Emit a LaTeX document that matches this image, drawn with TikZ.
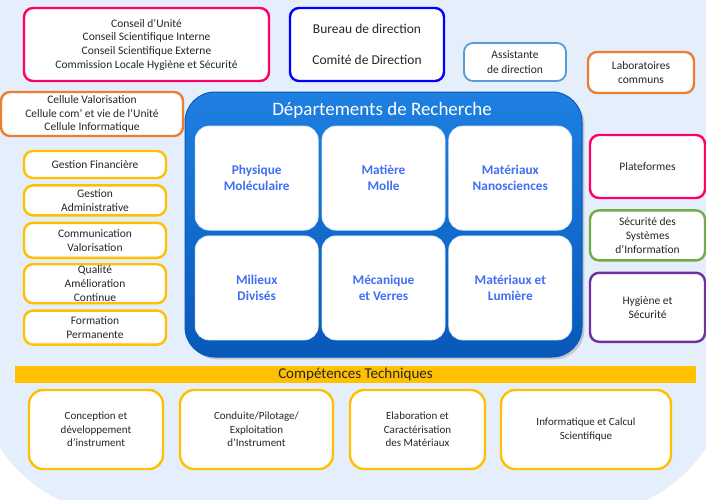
\documentclass[tikz,border=0pt]{standalone}
\usepackage{fontspec}
\setmainfont{Carlito}
\usepackage{tikz}
\usetikzlibrary{matrix, positioning, shadows}

\definecolor{fondbleu}{RGB}{229,238,251}
\definecolor{rosevif}{RGB}{255,0,102}
\definecolor{bleuvif}{RGB}{0,0,255}
\definecolor{bleuclair}{RGB}{91,155,213}
\definecolor{orangec}{RGB}{237,125,49}
\definecolor{jaune}{RGB}{255,192,0}
\definecolor{vertc}{RGB}{112,173,71}
\definecolor{violetc}{RGB}{112,48,160}
\definecolor{deptexte}{RGB}{66,110,245}
\definecolor{depclair}{RGB}{30,128,225}
\definecolor{depfonce}{RGB}{8,88,185}

\begin{document}
\begin{tikzpicture}[x=1pt, y=-1pt,
	cadre/.style={draw=#1, line width=2.4pt, rounded corners=9pt, fill=white, inner sep=0pt,
		align=center, text=black!85, font=\fontsize{11.5}{13.7}\selectfont},
	comp/.style={cadre=jaune, rounded corners=14pt, minimum height=79pt,
		font=\fontsize{11}{13.5}\selectfont},
	dep/.style={draw=white!85!depclair, line width=0.8pt, fill=white, rounded corners=14pt,
		minimum width=123pt, minimum height=104pt, inner sep=0pt, align=center,
		text=deptexte, font=\bfseries\fontsize{13.3}{16}\selectfont}]
	%
	\useasboundingbox (0,0) rectangle (706,499);
	\clip (0,0) rectangle (706,499);
	\fill[white] (0,0) rectangle (706,499);
	\fill[fondbleu, rounded corners=150pt] (-25,-300) rectangle (731,515);
	%
	% instances et direction
	\node[cadre=rosevif, minimum width=245pt, minimum height=73pt] (conseil) at (146.5,44.5)
		{Conseil d'Unité\\Conseil Scientifique Interne\\Conseil Scientifique Externe\\Commission Locale Hygiène et Sécurité};
	\node[cadre=bleuvif, minimum width=154pt, minimum height=73pt, font=\fontsize{13.5}{15}\selectfont] (bureau) at (367,44.5)
		{Bureau de direction\\[16pt]Comité de Direction};
	\node[cadre=bleuclair, line width=1.8pt, minimum width=102pt, minimum height=38pt, font=\fontsize{11.5}{14.5}\selectfont] (assistante) at (515,62)
		{Assistante\\de direction};
	\node[cadre=orangec, minimum width=106pt, minimum height=41pt] (labos) at (641,72.5)
		{Laboratoires\\communs};
	\node[cadre=orangec, minimum width=182pt, minimum height=44pt] (cellules) at (92,114)
		{Cellule Valorisation\\Cellule com' et vie de l'Unité\\Cellule Informatique};
	%
	% services
	\node[cadre=jaune, minimum width=142pt, minimum height=27pt] (finance) at (95,164.5) {Gestion Financière};
	\node[cadre=jaune, minimum width=142pt, minimum height=30pt, below=5pt of finance] (admin) {Gestion\\Administrative};
	\node[cadre=jaune, minimum width=142pt, minimum height=35pt, below=5pt of admin] (commu) {Communication\\Valorisation};
	\node[cadre=jaune, minimum width=142pt, minimum height=39pt, below=4pt of commu] (qualite) {Qualité\\Amélioration\\Continue};
	\node[cadre=jaune, minimum width=142pt, minimum height=34pt, below=5pt of qualite] (formation) {Formation\\Permanente};
	%
	% départements
	\node[draw=depfonce, line width=1pt, rounded corners=30pt, top color=depclair, bottom color=depfonce,
		minimum width=397pt, minimum height=265pt, drop shadow={opacity=0.35}] (depts) at (383.5,224.5) {};
	\node[text=white, font=\fontsize{19}{21}\selectfont] (deptitre) at (382,110) {Départements de Recherche};
	\matrix (grille) at (383.5,233) [column sep=3pt, row sep=5pt]
	{
		\node[dep] (physique) {Physique\\Moléculaire}; &
		\node[dep] (molle) {Matière\\Molle}; &
		\node[dep] (nano) {Matériaux\\Nanosciences}; \\
		%
		\node[dep] (milieux) {Milieux\\Divisés}; &
		\node[dep] (meca) {Mécanique\\et Verres}; &
		\node[dep] (lumiere) {Matériaux et\\Lumière}; \\
	};
	%
	% plateformes
	\node[cadre=rosevif, minimum width=115pt, minimum height=63pt] (plateformes) at (647.5,166.5) {Plateformes};
	\node[cadre=vertc, minimum width=115pt, minimum height=50pt, below=10pt of plateformes] (secu)
		{Sécurité des\\Systèmes\\d'Information};
	\node[cadre=violetc, minimum width=115pt, minimum height=69pt, below=10pt of secu] (hygiene)
		{Hygiène et\\Sécurité};
	%
	% compétences techniques
	\node[fill=jaune, minimum width=681pt, minimum height=17pt, inner sep=0pt, text=black!85,
		font=\fontsize{15}{16}\selectfont] (competences) at (355.5,374.5) {Compétences Techniques};
	\node[comp, minimum width=134pt] (conception) at (96,429.5) {Conception et\\développement\\d'instrument};
	\node[comp, minimum width=153pt] (conduite) at (256.5,429.5) {Conduite/Pilotage/\\Exploitation\\d'Instrument};
	\node[comp, minimum width=135pt] (elaboration) at (417.5,429.5) {Elaboration et\\Caractérisation\\des Matériaux};
	\node[comp, minimum width=170pt] (info) at (586,429.5) {Informatique et Calcul\\Scientifique};
\end{tikzpicture}
\end{document}
